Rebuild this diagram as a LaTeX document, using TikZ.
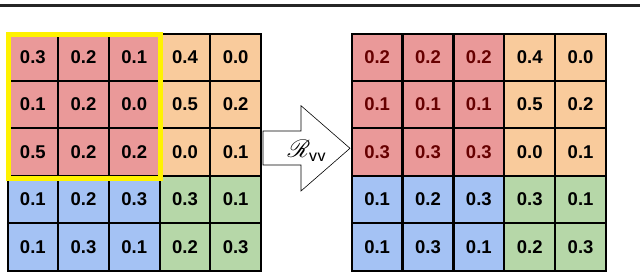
\documentclass[tikz,border=0pt]{standalone}
\usepackage{fontspec}
\setmainfont{Liberation Sans}
\usepackage{amsmath,amssymb}
\usepackage{mathrsfs}
\usepackage{xcolor}
\usepackage{tikz}
\usetikzlibrary{positioning,arrows.meta}
\definecolor{cellred}{HTML}{EA9999}
\definecolor{cellorange}{HTML}{F9CB9C}
\definecolor{cellblue}{HTML}{A4C2F4}
\definecolor{cellgreen}{HTML}{B6D7A8}
\definecolor{darkred}{HTML}{660000}

\begin{document}
\begin{tikzpicture}[x=1pt,y=-1pt,
    cell/.style={draw=black,line width=2pt,minimum width=50.7pt,minimum height=47.4pt,
      inner sep=0pt,font=\fontsize{18.5}{18.5}\selectfont\bfseries},
    window/.style={draw=yellow,line width=5pt}]
  \useasboundingbox (0,0) rectangle (640,273);
  \draw[line width=2.5pt,black!85] (0,5.3) -- (640,5.3);
  % input map
  \foreach \row [count=\r] in {{0.3,0.2,0.1,0.4,0.0},{0.1,0.2,0.0,0.5,0.2},{0.5,0.2,0.2,0.0,0.1},
                               {0.1,0.2,0.3,0.3,0.1},{0.1,0.3,0.1,0.2,0.3}} {
    \foreach \v [count=\c] in \row {
      \ifnum\r<4 \ifnum\c<4 \def\fillc{cellred}\else\def\fillc{cellorange}\fi
      \else \ifnum\c<4 \def\fillc{cellblue}\else\def\fillc{cellgreen}\fi\fi
      \node[cell,fill=\fillc] (L\r\c) at ({7.5+50.7*(\c-0.5)},{33.5+47.4*(\r-0.5)}) {\v};
    }
  }
  % output map
  \foreach \row [count=\r] in {{0.2,0.2,0.2,0.4,0.0},{0.1,0.1,0.1,0.5,0.2},{0.3,0.3,0.3,0.0,0.1},
                               {0.1,0.2,0.3,0.3,0.1},{0.1,0.3,0.1,0.2,0.3}} {
    \foreach \v [count=\c] in \row {
      \def\txtc{black}
      \ifnum\r<4 \ifnum\c<4 \def\fillc{cellred}\def\txtc{darkred}\else\def\fillc{cellorange}\fi
      \else \ifnum\c<4 \def\fillc{cellblue}\else\def\fillc{cellgreen}\fi\fi
      \node[cell,fill=\fillc,text=\txtc] (R\r\c) at ({351.7+50.86*(\c-0.5)},{33.5+47.4*(\r-0.5)}) {\v};
    }
  }
  \draw[window] ([shift={(2,2)}]L11.north west) rectangle ([shift={(-0.5,2.2)}]L33.south east);
  % block arrow
  \draw[line width=0.6pt,fill=white] (263,131) -- (301,131) -- (301,105.7) -- (350,148.3)
    -- (301,191) -- (301,165) -- (263,165) -- cycle;
  \node (rvv) at (307,151) {\fontsize{28}{30}\selectfont$\mathscr{R}_{\mathsf{vv}}$};
\end{tikzpicture}
\end{document}
